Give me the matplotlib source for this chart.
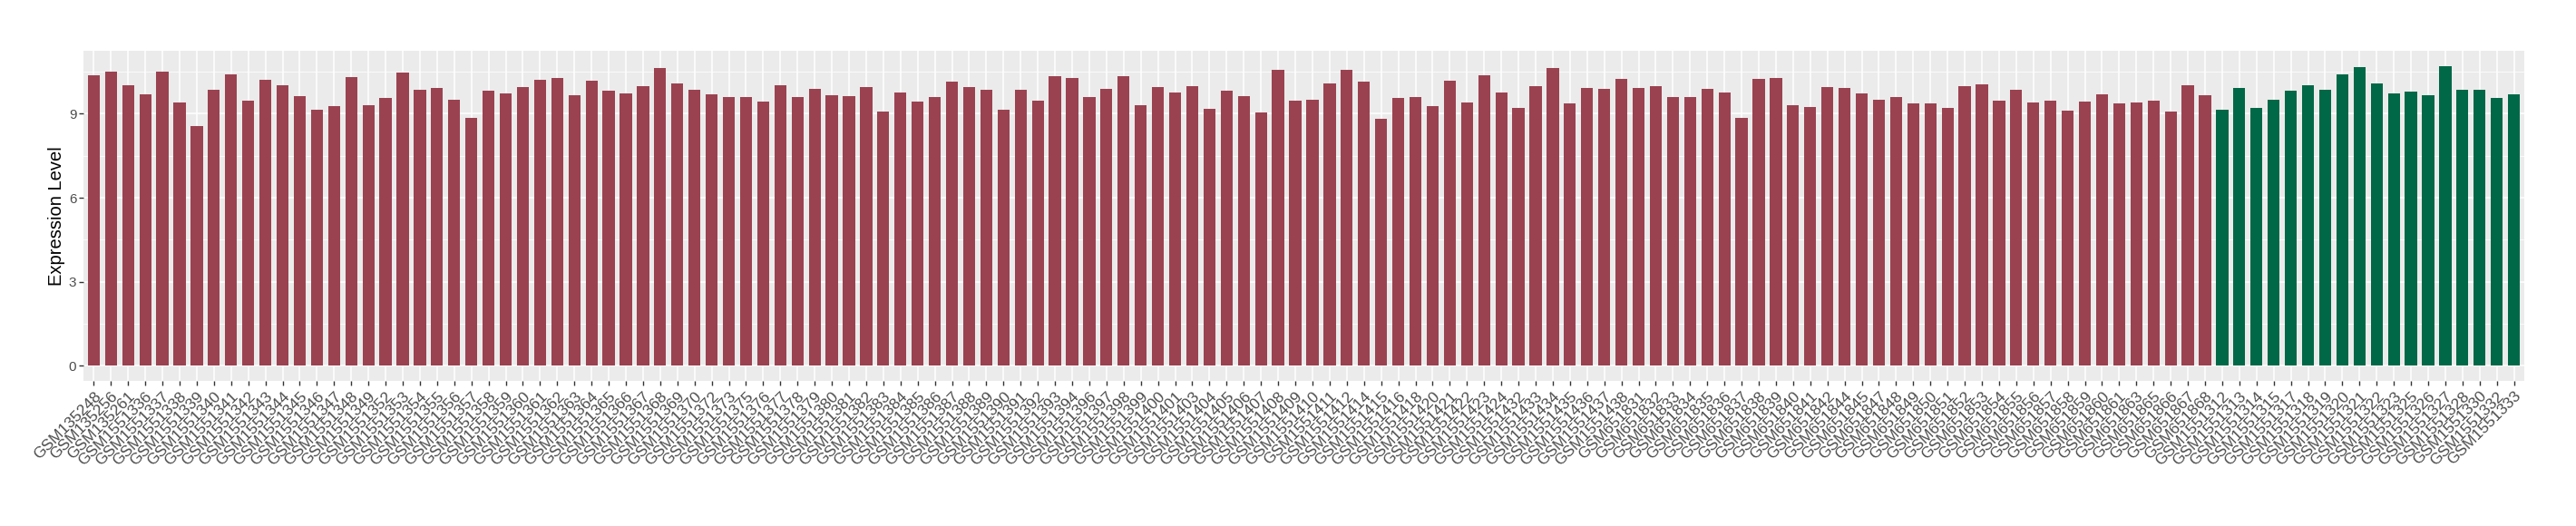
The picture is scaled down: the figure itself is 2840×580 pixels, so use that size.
import matplotlib
matplotlib.use("Agg")
import matplotlib.pyplot as plt
import numpy as np

plt.rcParams["font.family"] = ["Liberation Sans", "DejaVu Sans"]

# sample ids, in plotting order
group_a = (["GSM135248", "GSM135256", "GSM135261"]
           + ["GSM15513%02d" % n for n in [36, 37, 38, 39, 40, 41, 42, 43, 44, 45, 46, 47, 48, 49,
                                          52, 53, 54, 55, 56, 57, 58, 59, 60, 61, 62, 63, 64, 65,
                                          66, 67, 68, 69, 70, 72, 73, 75, 76, 77, 78, 79, 80, 81,
                                          82, 83, 84, 85, 86, 87, 88, 89, 90, 91, 92, 93, 94, 96,
                                          97, 98, 99]]
           + ["GSM1551%d" % n for n in [400, 401, 403, 404, 405, 406, 407, 408, 409, 410, 411, 412,
                                        414, 415, 416, 418, 420, 421, 422, 423, 424, 432, 433, 434,
                                        435, 436, 437, 438]]
           + ["GSM6518%d" % n for n in [31, 32, 33, 34, 35, 36, 37, 38, 39, 40, 41, 42, 44, 45, 47,
                                        48, 49, 50, 51, 52, 53, 54, 55, 56, 57, 58, 59, 60, 61, 63,
                                        65, 66, 67, 68]])
group_b = ["GSM15513%d" % n for n in [12, 13, 14, 15, 17, 18, 19, 20, 21, 22, 23, 25, 26, 27, 28,
                                     30, 32, 33]]

values_a = [10.36, 10.49, 10.02, 9.70, 10.49, 9.39, 8.57, 9.86, 10.40, 9.45,
            10.21, 10.02, 9.64, 9.14, 9.26, 10.30, 9.29, 9.55, 10.46, 9.86,
            9.92, 9.51, 8.85, 9.83, 9.73, 9.95, 10.21, 10.27, 9.67, 10.18,
            9.83, 9.73, 9.99, 10.62, 10.08, 9.86, 9.70, 9.61, 9.58, 9.42,
            10.02, 9.61, 9.89, 9.67, 9.64, 9.95, 9.07, 9.77, 9.42, 9.58,
            10.14, 9.95, 9.86, 9.14, 9.86, 9.48, 10.33, 10.27, 9.58, 9.89,
            10.33, 9.29, 9.95, 9.77, 9.99, 9.17, 9.83, 9.64, 9.04, 10.55,
            9.45, 9.51, 10.08, 10.55, 10.14, 8.82, 9.55, 9.58, 9.26, 10.18,
            9.39, 10.36, 9.77, 9.20, 9.99, 10.62, 9.36, 9.92, 9.89, 10.24,
            9.92, 9.99, 9.61, 9.61, 9.89, 9.77, 8.85, 10.24, 10.27, 9.29,
            9.23, 9.95, 9.92, 9.73, 9.51, 9.61, 9.36, 9.36, 9.20, 9.99,
            10.05, 9.45, 9.86, 9.39, 9.48, 9.10, 9.42, 9.70, 9.36, 9.39,
            9.45, 9.07, 10.02, 9.67]
values_b = [9.14, 9.92, 9.20, 9.51, 9.83, 10.02, 9.86, 10.40, 10.65, 10.08,
            9.73, 9.80, 9.67, 10.71, 9.86, 9.86, 9.55, 9.70]

color_a = "#9B4251"
color_b = "#006847"

labels = group_a + group_b
values = np.array(values_a + values_b)
colors = [color_a] * len(values_a) + [color_b] * len(values_b)
x = np.arange(len(labels))

fig = plt.figure(figsize=(28.4, 5.8), dpi=100)
ax = fig.add_axes([92 / 2840, 1 - 420 / 580, 2691 / 2840, 364 / 580])
ax.set_facecolor("#EBEBEB")

ymax = values.max()
ax.set_ylim(-0.05 * ymax, 1.05 * ymax)
ax.set_xlim(-0.6, len(labels) - 0.4)

ax.set_yticks([0, 3, 6, 9])
ax.set_yticks([1.5, 4.5, 7.5, 10.5], minor=True)
ax.set_xticks(x)
ax.grid(which="major", color="white", linewidth=1.1)
ax.grid(which="minor", axis="y", color="white", linewidth=0.55)
ax.set_axisbelow(True)

ax.bar(x, values, width=0.7, color=colors, zorder=2)

for s in ax.spines.values():
    s.set_visible(False)
ax.tick_params(which="major", length=3.5, width=1.0, color="#333333",
               labelcolor="#4D4D4D")
ax.tick_params(which="minor", length=0)
ax.tick_params(axis="y", labelsize=11, pad=2)
ax.set_xticklabels(labels, rotation=45, ha="right", va="top",
                   rotation_mode="anchor", fontsize=12.6)
ax.tick_params(axis="x", pad=3)

ax.set_ylabel("Expression Level", fontsize=14.5, color="black", labelpad=3)

fig.savefig("out.png", dpi=100)
